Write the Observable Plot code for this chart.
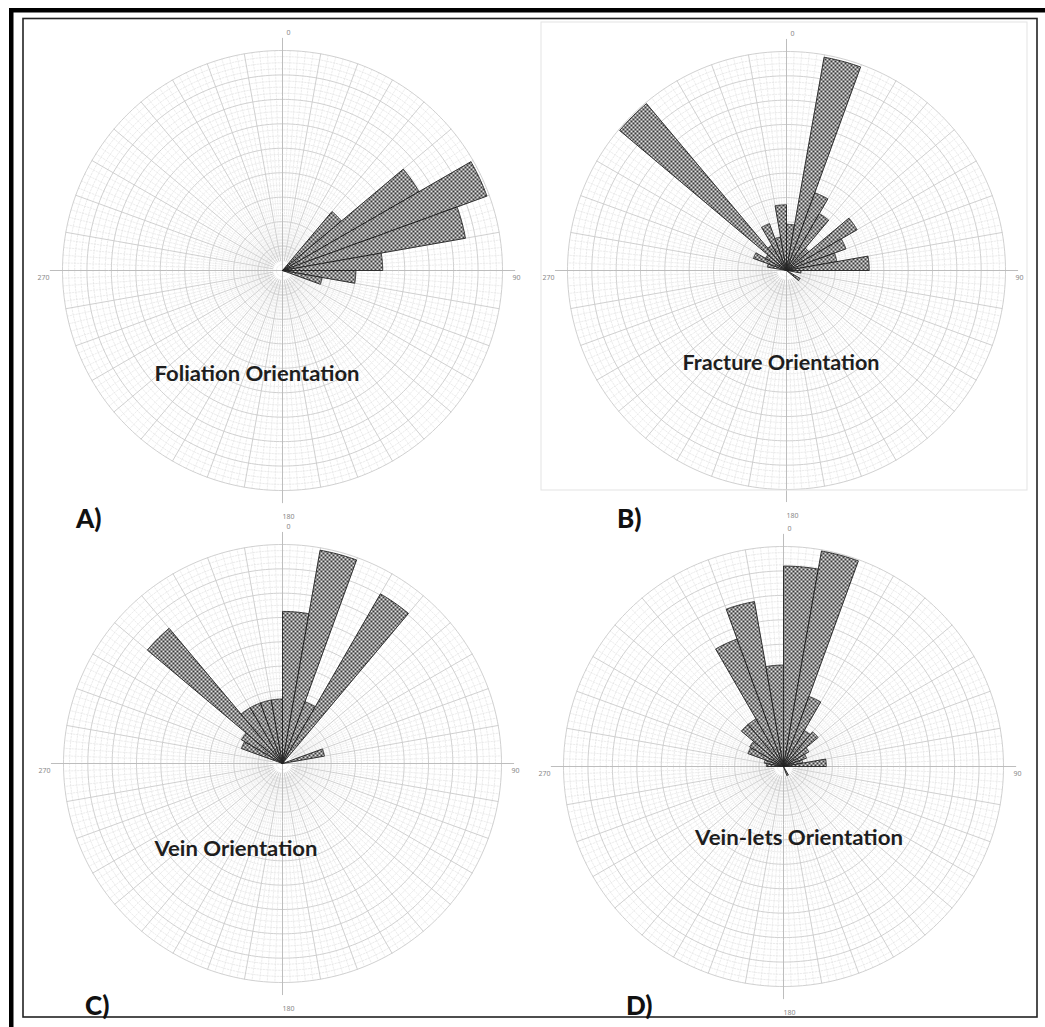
<!DOCTYPE html>
<html>
<head>
<meta charset="utf-8">
<script src="https://cdn.jsdelivr.net/npm/d3@7"></script>
<script src="https://cdn.jsdelivr.net/npm/@observablehq/plot@0.6"></script>
<style>
  body { margin: 0; background: #fff; }
  #wrap { position: relative; width: 1045px; height: 1027px; overflow: hidden; background: #fff; }
  #wrap svg { position: absolute; }
</style>
</head>
<body>
<div id="wrap"></div>
<script>
// ---- Data: 10° bins (start angle, degrees clockwise from north) and bar lengths (grid-ring units) ----
const foliationAngles = [40, 50, 60, 70, 80, 90, 100];
const foliationValues = [3.15, 6.45, 8.9, 7.6, 4.1, 3.0, 1.65];

const fractureAngles = [0, 10, 20, 30, 40, 50, 60, 70, 80, 90, 120, 280, 290, 300, 310, 320, 330, 340, 350];
const fractureValues = [1.9, 8.9, 3.4, 2.7, 1.2, 3.35, 2.6, 2.1, 3.4, 0.6, 0.65, 0.8, 1.45, 1.0, 8.95, 1.2, 2.05, 1.4, 2.7];

const veinAngles = [0, 10, 20, 30, 70, 290, 300, 310, 320, 330, 340, 350];
const veinValues = [6.25, 8.9, 2.7, 8.05, 1.75, 1.8, 1.95, 7.25, 2.65, 2.65, 2.65, 2.65];

const veinletAngles = [0, 10, 20, 30, 40, 50, 60, 70, 80, 150, 270, 280, 290, 300, 310, 320, 330, 340, 350];
const veinletValues = [8.2, 8.95, 3.05, 1.7, 1.85, 1.2, 1.0, 0.8, 1.75, 0.4, 0.7, 0.8, 1.55, 1.6, 2.25, 2.25, 5.55, 6.85, 4.15];

const titles = ["Foliation Orientation", "Fracture Orientation", "Vein Orientation", "Vein-lets Orientation"];
const panelLetters = ["A)", "B)", "C)", "D)"];
const degreeAngles = [0, 90, 180, 270];
const degreeLabels = ["0", "90", "180", "270"];
const ringMax = 9;     // number of major rings
const binWidth = 10;   // degrees

// ---- polar helpers (azimuthal projection: pole = centre) ----
const K = 90 / ringMax;            // degrees of arc per ring unit
const lon = a => 180 - a;          // compass angle -> longitude
const lat = v => 90 - v * K;       // radial value -> latitude

function wedge(a0, v) {
  const a1 = a0 + binWidth;
  const outer = d3.range(a0, a1 + 1e-6, 0.5).map(a => [lon(a), lat(v)]);
  const inner = lat(0.01);
  const ring = [[lon(a0), inner], ...outer, [lon(a1), inner], [lon(a0), inner]];
  const f = {type: "Feature", properties: {}, geometry: {type: "Polygon", coordinates: [ring]}};
  if (d3.geoArea(f) > 2 * Math.PI) ring.reverse();
  return f;
}
function spoke(a, v0, v1) {
  return {type: "LineString", coordinates: [[lon(a), lat(v0)], [lon(a), lat(v1)]]};
}
function circle(v) {
  return d3.geoCircle().center([0, 90]).radius(v * K).precision(1)();
}

const majorRings = d3.range(1, ringMax + 1).map(circle);
const minorRings = d3.range(0.25, ringMax, 0.25).filter(v => Math.abs(v - Math.round(v)) > 1e-6).map(circle);
const majorSpokes = d3.range(0, 360, 10).filter(a => a % 90 !== 0).map(a => spoke(a, 0.4, ringMax));
const minorSpokes = d3.range(0, 360, 2).filter(a => a % 10 !== 0).map(a => spoke(a, 0.6, ringMax));
const axisSpokes = degreeAngles.map(a => spoke(a, 0, ringMax + 0.5));

function panel(angles, values, idx, cx, cy, R, left, top) {
  const W = 520, H = 530;
  const lx = cx - left, ly = cy - top;
  const id = "chk" + idx;
  const wedges = angles.map((a, i) => wedge(a, values[i]));
  const labelText = a => degreeLabels[degreeAngles.indexOf(a)];
  const svg = Plot.plot({
    width: W, height: H,
    marginLeft: lx - R, marginTop: ly - R,
    marginRight: W - (lx + R), marginBottom: H - (ly + R),
    projection: {
      type: "azimuthal-equidistant",
      rotate: [0, -90],
      clip: false,
      domain: d3.geoCircle().center([0, 90]).radius(90)()
    },
    style: {background: "transparent", overflow: "visible"},
    marks: [
      Plot.geo(minorRings, {stroke: "#dedede", strokeWidth: 0.6, strokeDasharray: "1.5,1.5", fill: "none"}),
      Plot.geo(minorSpokes, {stroke: "#e0e0e0", strokeWidth: 0.6, strokeDasharray: "1.5,1.5"}),
      Plot.geo(majorRings, {stroke: "#cbcbcb", strokeWidth: 0.9, fill: "none"}),
      Plot.geo(majorSpokes, {stroke: "#cbcbcb", strokeWidth: 0.9}),
      Plot.geo(axisSpokes, {stroke: "#bdbdbd", strokeWidth: 1}),
      Plot.geo(wedges, {fill: `url(#${id})`, stroke: "#222", strokeWidth: 0.9}),
      Plot.text(degreeAngles, {
        filter: a => a % 180 === 0,
        x: a => lon(a), y: () => lat(9.9), text: labelText,
        fontSize: 7, fill: "#888", dx: 6, dy: 4.5
      }),
      Plot.text(degreeAngles, {
        filter: a => a % 180 !== 0,
        x: a => lon(a), y: () => lat(9.675), text: labelText,
        fontSize: 7, fill: "#888", dx: -2.5, dy: 7
      })
    ]
  });
  svg.style.left = left + "px";
  svg.style.top = top + "px";
  const defs = d3.select(svg).insert("defs", ":first-child");
  const pat = defs.append("pattern").attr("id", id).attr("patternUnits", "userSpaceOnUse")
    .attr("width", 4).attr("height", 4);
  pat.append("rect").attr("width", 4).attr("height", 4).attr("fill", "#3a3a3a");
  pat.append("rect").attr("x", 0).attr("y", 0).attr("width", 1.9).attr("height", 1.9).attr("fill", "#f4f4f4");
  pat.append("rect").attr("x", 2).attr("y", 2).attr("width", 1.9).attr("height", 1.9).attr("fill", "#f4f4f4");
  return svg;
}

const wrap = document.getElementById("wrap");
wrap.appendChild(panel(foliationAngles, foliationValues, 0, 282, 270, 220, 0, 0));
wrap.appendChild(panel(fractureAngles, fractureValues, 1, 786, 270, 219, 520, 0));
wrap.appendChild(panel(veinAngles, veinValues, 2, 282, 763, 219, 0, 500));
wrap.appendChild(panel(veinletAngles, veinletValues, 3, 783, 766, 220, 520, 500));

// ---- overlay: frame, titles, panel letters ----
const ov = d3.select(wrap).append("svg").attr("width", 1045).attr("height", 1027)
  .style("left", "0px").style("top", "0px").style("pointer-events", "none");
ov.append("rect").attr("x", 541).attr("y", 22).attr("width", 486).attr("height", 468)
  .attr("fill", "none").attr("stroke", "#e3e3e3");
ov.append("rect").attr("x", 9).attr("y", 8).attr("width", 1036).attr("height", 4.5).attr("fill", "#000");
ov.append("rect").attr("x", 9).attr("y", 8).attr("width", 4.5).attr("height", 1019).attr("fill", "#000");
ov.append("rect").attr("x", 23).attr("y", 18.5).attr("width", 1014).attr("height", 998.5)
  .attr("fill", "none").attr("stroke", "#222").attr("stroke-width", 1.6);

const titlePos = [[257, 381, 205], [781, 370, 197], [236, 856, 163], [799, 845, 208]];
titles.forEach((t, i) => {
  ov.append("text").attr("x", titlePos[i][0]).attr("y", titlePos[i][1])
    .attr("text-anchor", "middle").attr("font-family", "Lato, 'Open Sans', sans-serif")
    .attr("font-weight", "bold").attr("font-size", 20).attr("fill", "#1e1e1e")
    .attr("textLength", titlePos[i][2]).attr("lengthAdjust", "spacingAndGlyphs")
    .text(t);
});
const letterPos = [[76, 528], [617, 528], [85, 1015], [626, 1015]];
panelLetters.forEach((t, i) => {
  ov.append("text").attr("x", letterPos[i][0]).attr("y", letterPos[i][1])
    .attr("font-family", "Lato, 'Open Sans', sans-serif").attr("font-weight", "900")
    .attr("font-size", 26).attr("fill", "#111").text(t);
});
</script>
</body>
</html>
